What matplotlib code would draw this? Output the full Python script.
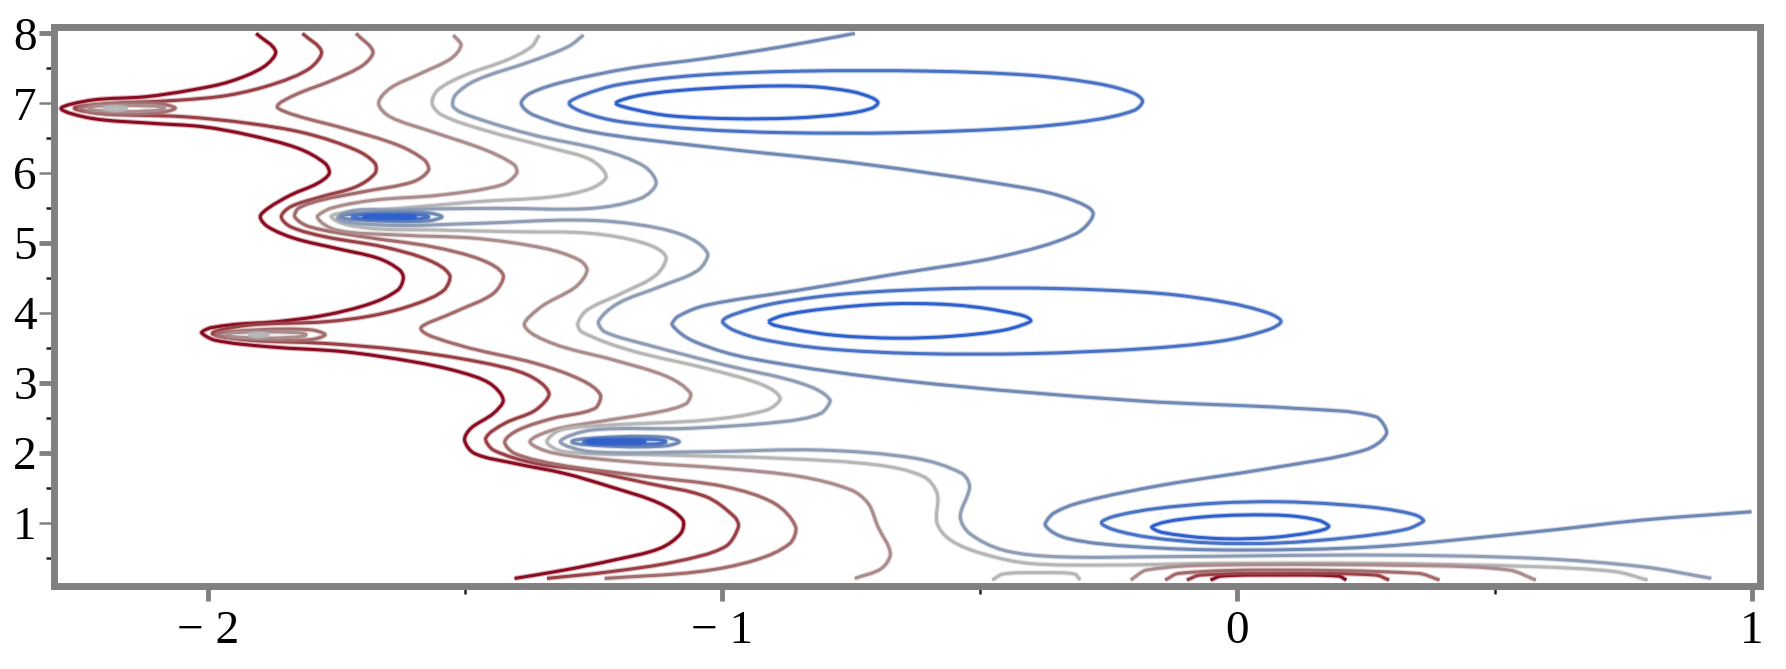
import matplotlib
matplotlib.use('Agg')
import matplotlib.pyplot as plt
from matplotlib.path import Path
from matplotlib.patches import PathPatch
import numpy as np

# Contour lines, level 1 (dark red) to level 9 (blue)
level1_main = [(-1.906,8.0),(-1.868,7.738),(-1.891,7.523),(-1.958,7.309),(-2.032,7.19),(-2.121,7.094),(-2.225,7.046),
    (-2.285,6.927),(-2.225,6.784),(-2.106,6.713),(-2.01,6.665),(-1.92,6.546),(-1.824,6.355),(-1.772,6.14),(-1.764,5.997),
    (-1.787,5.854),(-1.839,5.687),(-1.883,5.497),(-1.898,5.377),(-1.883,5.234),(-1.831,5.067),(-1.75,4.924),(-1.668,4.781),
    (-1.627,4.614),(-1.62,4.495),(-1.631,4.328),(-1.683,4.137),(-1.772,3.97),(-1.868,3.875),(-1.958,3.827),(-2.012,3.723),
    (-1.987,3.613),(-1.883,3.518),(-1.735,3.446),(-1.601,3.303),(-1.512,3.16),(-1.452,2.993),(-1.426,2.755),(-1.445,2.564),
    (-1.489,2.349),(-1.501,2.182),(-1.482,1.992),(-1.404,1.849),(-1.307,1.705),(-1.218,1.515),(-1.122,1.276),(-1.077,1.038),
    (-1.081,0.847),(-1.122,0.632),(-1.211,0.466),(-1.307,0.323),(-1.404,0.203)]
level2_main = [(-1.816,8.0),(-1.779,7.738),(-1.802,7.5),(-1.868,7.285),(-1.958,7.118),(-2.054,7.046),(-2.2,6.99),(-2.259,6.93),
    (-2.2,6.85),(-2.047,6.808),(-1.92,6.713),(-1.809,6.57),(-1.712,6.331),(-1.675,6.14),(-1.675,5.997),(-1.712,5.806),
    (-1.779,5.664),(-1.839,5.52),(-1.857,5.377),(-1.839,5.234),(-1.772,5.091),(-1.66,4.948),(-1.571,4.757),(-1.53,4.543),
    (-1.541,4.328),(-1.593,4.137),(-1.675,3.97),(-1.772,3.875),(-1.92,3.827),(-1.991,3.708),(-1.92,3.613),(-1.772,3.565),
    (-1.623,3.47),(-1.475,3.303),(-1.378,3.112),(-1.337,2.85),(-1.363,2.612),(-1.423,2.421),(-1.46,2.206),(-1.445,2.039),
    (-1.363,1.849),(-1.27,1.753),(-1.144,1.562),(-1.032,1.372),(-0.977,1.086),(-0.969,0.943),(-0.995,0.656),(-1.092,0.442),
    (-1.218,0.299),(-1.341,0.203)]
level3_main = [(-1.712,8.0),(-1.679,7.738),(-1.698,7.547),(-1.757,7.332),(-1.831,7.118),(-1.865,6.951),(-1.831,6.832),
    (-1.735,6.641),(-1.631,6.403),(-1.579,6.188),(-1.571,6.045),(-1.601,5.878),(-1.698,5.735),(-1.779,5.616),(-1.824,5.497),
    (-1.831,5.377),(-1.802,5.234),(-1.698,5.091),(-1.564,4.948),(-1.467,4.757),(-1.426,4.543),(-1.445,4.281),(-1.519,4.018),
    (-1.586,3.78),(-1.512,3.541),(-1.363,3.279),(-1.274,3.041),(-1.237,2.826),(-1.248,2.635),(-1.33,2.492),(-1.397,2.325),
    (-1.423,2.158),(-1.404,1.992),(-1.315,1.825),(-1.144,1.658),(-0.995,1.515),(-0.899,1.276),(-0.858,0.943),(-0.869,0.704),
    (-0.936,0.466),(-1.047,0.299),(-1.229,0.203)]
level4_main = [(-1.523,7.976),(-1.508,7.833),(-1.527,7.643),(-1.586,7.428),(-1.646,7.213),(-1.668,6.999),(-1.646,6.808),
    (-1.564,6.593),(-1.46,6.331),(-1.404,6.116),(-1.4,5.997),(-1.43,5.83),(-1.549,5.687),(-1.675,5.616),(-1.76,5.5),
    (-1.787,5.377),(-1.75,5.187),(-1.627,5.115),(-1.478,5.067),(-1.345,4.924),(-1.278,4.757),(-1.263,4.614),(-1.285,4.376),
    (-1.352,4.09),(-1.385,3.828),(-1.33,3.565),(-1.211,3.327),(-1.107,3.088),(-1.062,2.85),(-1.07,2.707),(-1.122,2.588),
    (-1.241,2.445),(-1.33,2.325),(-1.374,2.158),(-1.33,2.0),(-1.181,1.872),(-0.995,1.777),(-0.847,1.658),(-0.75,1.467),
    (-0.717,1.276),(-0.698,0.943),(-0.674,0.561),(-0.691,0.346),(-0.743,0.203)]
level5_main = [(-1.356,7.976),(-1.371,7.81),(-1.419,7.619),(-1.5,7.404),(-1.553,7.19),(-1.564,6.999),(-1.545,6.832),
    (-1.463,6.617),(-1.33,6.355),(-1.255,6.188),(-1.226,5.95),(-1.255,5.783),(-1.33,5.663),(-1.478,5.592),(-1.627,5.497),
    (-1.72,5.45),(-1.76,5.377),(-1.694,5.22),(-1.553,5.187),(-1.404,5.163),(-1.255,5.139),(-1.151,4.996),(-1.11,4.805),
    (-1.129,4.543),(-1.196,4.281),(-1.263,4.042),(-1.281,3.851),(-1.274,3.732),(-1.181,3.47),(-1.032,3.208),(-0.921,2.969),
    (-0.888,2.778),(-0.914,2.612),(-1.032,2.468),(-1.218,2.397),(-1.315,2.325),(-1.341,2.158),(-1.307,2.015),(-1.107,1.968),
    (-0.884,1.92),(-0.698,1.825),(-0.609,1.658),(-0.583,1.42),(-0.583,0.99),(-0.557,0.752),(-0.497,0.561),(-0.404,0.418),
    (-0.248,0.394),(-0.041,0.418),(0.269,0.418),(0.58,0.371),(0.735,0.299),(0.797,0.18)]
level6_main = [(-1.27,7.976),(-1.3,7.81),(-1.374,7.595),(-1.478,7.332),(-1.519,7.118),(-1.523,6.951),(-1.486,6.808),
    (-1.367,6.546),(-1.233,6.331),(-1.151,6.093),(-1.129,5.854),(-1.159,5.64),(-1.255,5.497),(-1.441,5.497),(-1.627,5.473),
    (-1.746,5.377),(-1.66,5.258),(-1.478,5.282),(-1.293,5.33),(-1.181,5.282),(-1.077,5.115),(-1.029,4.853),(-1.047,4.614),
    (-1.122,4.376),(-1.203,4.137),(-1.241,3.875),(-1.229,3.732),(-1.144,3.541),(-0.995,3.255),(-0.847,2.993),(-0.791,2.755),
    (-0.809,2.564),(-0.884,2.445),(-1.07,2.349),(-1.255,2.325),(-1.315,2.158),(-1.255,2.015),(-1.032,2.016),(-0.81,2.039),
    (-0.624,1.92),(-0.535,1.705),(-0.52,1.515),(-0.538,1.085),(-0.52,0.847),(-0.455,0.609),(-0.352,0.514),(-0.145,0.514),
    (0.269,0.537),(0.58,0.49),(0.787,0.371),(0.921,0.204)]
level7_main = [(-0.743,8.0),(-0.884,7.81),(-1.032,7.642),(-1.181,7.5),(-1.307,7.309),(-1.374,7.142),(-1.391,6.999),
    (-1.367,6.832),(-1.255,6.593),(-1.032,6.379),(-0.735,6.14),(-0.412,5.789),(-0.324,5.626),(-0.28,5.43),(-0.313,5.137),
    (-0.457,4.812),(-0.656,4.567),(-0.855,4.323),(-1.032,4.111),(-1.087,3.948),(-1.098,3.834),(-1.054,3.59),(-0.943,3.346),
    (-0.634,3.02),(-0.191,2.743),(0.114,2.636),(0.269,2.517),(0.29,2.278),(0.248,2.04),(0.062,1.777),(-0.145,1.539),
    (-0.3,1.3),(-0.357,1.134),(-0.373,0.967),(-0.33,0.776),(-0.197,0.657),(0.0,0.609),(0.269,0.657),(0.58,0.871),
    (0.787,1.038),(0.999,1.157)]

# closed rings around the thin peaks on the left
level3_top = [(-2.251,6.93),(-2.2,6.99),(-2.1,7.0),(-2.063,6.93),(-2.1,6.86),(-2.2,6.85),(-2.251,6.93)]
level4_top = [(-2.233,6.93),(-2.16,6.97),(-2.084,6.93),(-2.16,6.88),(-2.233,6.93)]
level5_top = [(-2.203,6.93),(-2.18,6.95),(-2.158,6.93),(-2.18,6.9),(-2.203,6.93)]
level3_mid = [(-1.984,3.69),(-1.9,3.76),(-1.8,3.76),(-1.772,3.69),(-1.8,3.62),(-1.9,3.62),(-1.984,3.69)]
level4_mid = [(-1.965,3.69),(-1.89,3.73),(-1.809,3.69),(-1.89,3.64),(-1.965,3.69)]
level5_mid = [(-1.92,3.69),(-1.9,3.71),(-1.883,3.69),(-1.9,3.66),(-1.92,3.69)]
level7_a = [(-1.742,5.377),(-1.65,5.44),(-1.57,5.43),(-1.545,5.377),(-1.57,5.32),(-1.65,5.31),(-1.742,5.377)]
level8_a = [(-1.72,5.377),(-1.65,5.41),(-1.571,5.377),(-1.65,5.34),(-1.72,5.377)]
level9_a = [(-1.698,5.377),(-1.65,5.395),(-1.597,5.377),(-1.65,5.36),(-1.698,5.377)]
level7_b = [(-1.293,2.159),(-1.2,2.23),(-1.11,2.22),(-1.084,2.159),(-1.11,2.1),(-1.2,2.09),(-1.293,2.159)]
level8_b = [(-1.27,2.159),(-1.19,2.2),(-1.11,2.159),(-1.19,2.12),(-1.27,2.159)]
level9_b = [(-1.263,2.159),(-1.2,2.18),(-1.151,2.159),(-1.2,2.14),(-1.263,2.159)]

# large closed rings on the right
level8_upper = [(-1.298,7.0),(-1.27,7.12),(-1.2,7.27),(-1.05,7.40),(-0.85,7.46),(-0.6,7.46),(-0.4,7.4),(-0.27,7.28),(-0.2,7.14),
    (-0.184,7.03),(-0.2,6.9),(-0.28,6.76),(-0.42,6.65),(-0.65,6.58),(-0.88,6.58),(-1.05,6.63),(-1.2,6.74),(-1.27,6.87),(-1.298,7.0)]
level9_upper = [(-1.207,7.0),(-1.17,7.1),(-1.09,7.18),(-0.95,7.24),(-0.83,7.24),(-0.75,7.17),(-0.71,7.08),(-0.698,7.01),(-0.71,6.93),
    (-0.76,6.85),(-0.86,6.79),(-0.98,6.78),(-1.1,6.82),(-1.17,6.91),(-1.207,7.0)]
level8_middle = [(-1.0,3.88),(-0.97,4.0),(-0.89,4.15),(-0.75,4.28),(-0.55,4.35),(-0.35,4.35),(-0.15,4.28),(-0.02,4.15),(0.06,4.0),
    (0.085,3.88),(0.06,3.76),(-0.03,3.6),(-0.18,3.49),(-0.4,3.42),(-0.62,3.42),(-0.8,3.49),(-0.92,3.62),(-0.98,3.76),(-1.0,3.88)]
level9_middle = [(-0.91,3.88),(-0.88,3.97),(-0.8,4.06),(-0.68,4.13),(-0.56,4.12),(-0.46,4.03),(-0.401,3.89),(-0.45,3.76),(-0.55,3.67),
    (-0.66,3.64),(-0.78,3.68),(-0.87,3.78),(-0.91,3.88)]
level8_lower = [(-0.264,1.0),(-0.24,1.09),(-0.16,1.2),(-0.04,1.28),(0.08,1.3),(0.2,1.26),(0.31,1.17),(0.362,1.03),(0.33,0.91),(0.22,0.79),
    (0.08,0.71),(-0.05,0.71),(-0.17,0.79),(-0.24,0.9),(-0.264,1.0)]
level9_lower = [(-0.166,0.93),(-0.14,1.01),(-0.07,1.08),(0.01,1.11),(0.1,1.1),(0.16,1.03),(0.178,0.95),(0.15,0.87),(0.07,0.79),
    (-0.02,0.77),(-0.11,0.82),(-0.166,0.93)]

# arcs at the bottom edge
level1_base = [(-0.052,0.18),(-0.031,0.237),(0.083,0.252),(0.197,0.237),(0.212,0.18)]
level2_base = [(-0.098,0.18),(-0.072,0.251),(0.114,0.275),(0.269,0.251),(0.295,0.18)]
level3_base = [(-0.14,0.18),(-0.114,0.275),(0.062,0.323),(0.352,0.275),(0.393,0.18)]
level4_base = [(-0.207,0.18),(-0.176,0.323),(-0.041,0.394),(0.373,0.385),(0.528,0.323),(0.58,0.18)]
level5_base = [(-0.476,0.18),(-0.455,0.266),(-0.383,0.285),(-0.316,0.266),(-0.305,0.18)]

x_ticks = [-2, -1, 0, 1]
x_labels = ['\u2212 2', '\u2212 1', '0', '1']
x_minor = [-1.5, -0.5, 0.5]
y_ticks = [1, 2, 3, 4, 5, 6, 7, 8]
y_labels = ['1', '2', '3', '4', '5', '6', '7', '8']
y_minor = [0.5, 1.5, 2.5, 3.5, 4.5, 5.5, 6.5, 7.5]

level_colors = ['#8a0c20', '#984045', '#a36c6c', '#ab8c8c', '#b6b6b6', '#8f9db4', '#7088b4', '#4a72c4', '#2f60cc']
curves = [
    (1, level1_main), (2, level2_main), (3, level3_main), (4, level4_main), (5, level5_main), (6, level6_main), (7, level7_main),
    (3, level3_top), (4, level4_top), (5, level5_top), (3, level3_mid), (4, level4_mid), (5, level5_mid),
    (7, level7_a), (8, level8_a), (9, level9_a), (7, level7_b), (8, level8_b), (9, level9_b),
    (8, level8_upper), (9, level9_upper), (8, level8_middle), (9, level9_middle), (8, level8_lower), (9, level9_lower),
    (1, level1_base), (2, level2_base), (3, level3_base), (4, level4_base), (5, level5_base),
]


def smooth_path(points):
    # bezier through the points: tangent from the two neighbours,
    # handle from the chord along that tangent so narrow tips don't balloon
    scale = np.array([515.0, 70.0])
    p = np.array(points, dtype=float) * scale
    closed = np.allclose(p[0], p[-1])
    n = len(p)
    seg = np.hypot(*(p[1:] - p[:-1]).T)
    tan = np.zeros_like(p)
    for i in range(1, n - 1):
        tan[i] = p[i + 1] - p[i - 1]
    if closed:
        tan[0] = tan[-1] = p[1] - p[-2]
    else:
        tan[0] = p[1] - p[0]
        tan[-1] = p[-1] - p[-2]
    tan = tan / np.hypot(*tan.T)[:, None]
    verts = [p[0]]
    codes = [Path.MOVETO]
    for i in range(n - 1):
        chord = p[i + 1] - p[i]
        h0 = max(abs(chord @ tan[i]), 0.2 * seg[i]) / 3
        h1 = max(abs(chord @ tan[i + 1]), 0.2 * seg[i]) / 3
        verts.append(p[i] + tan[i] * h0)
        verts.append(p[i + 1] - tan[i + 1] * h1)
        verts.append(p[i + 1])
        codes += [Path.CURVE4, Path.CURVE4, Path.CURVE4]
    return Path(np.array(verts) / scale, codes)


fig = plt.figure(figsize=(17.86, 6.69), dpi=100)
ax = fig.add_axes([53.6 / 1786, 1 - 585.7 / 669, (1760 - 53.6) / 1786, (585.7 - 26.7) / 669])
ax.set_xlim(-2.2994, 1.0155)
ax.set_ylim(0.099, 8.096)

# wide faint stroke under the line for the soft look of the original
for level, pts in curves:
    path = smooth_path(pts)
    ax.add_patch(PathPatch(path, fill=False, edgecolor=level_colors[level - 1], lw=3.8, alpha=0.3,
                           capstyle='butt', joinstyle='round'))
    ax.add_patch(PathPatch(path, fill=False, edgecolor=level_colors[level - 1], lw=2.2,
                           capstyle='butt', joinstyle='round'))

for s in ax.spines.values():
    s.set_color('#808080')
    s.set_linewidth(5)

ax.set_xticks(x_ticks)
ax.set_xticklabels(x_labels)
ax.set_yticks(y_ticks)
ax.set_yticklabels(y_labels)
ax.set_xticks(x_minor, minor=True)
ax.set_yticks(y_minor, minor=True)
ax.tick_params(which='major', length=11, width=3.5, color='#808080', pad=7, labelsize=34)
ax.tick_params(which='minor', length=6, width=1.8, color='#222222')
ax.tick_params(axis='y', pad=1)
for t in ax.get_xticklabels() + ax.get_yticklabels():
    t.set_family('Liberation Serif')

# some y ticks come out thin and black in the original
for i in [0, 3, 5, 6]:
    line = ax.yaxis.get_major_ticks()[i].tick1line
    line.set_color('#111111')
    line.set_markeredgewidth(1.8)

fig.savefig('out.png', dpi=100)
